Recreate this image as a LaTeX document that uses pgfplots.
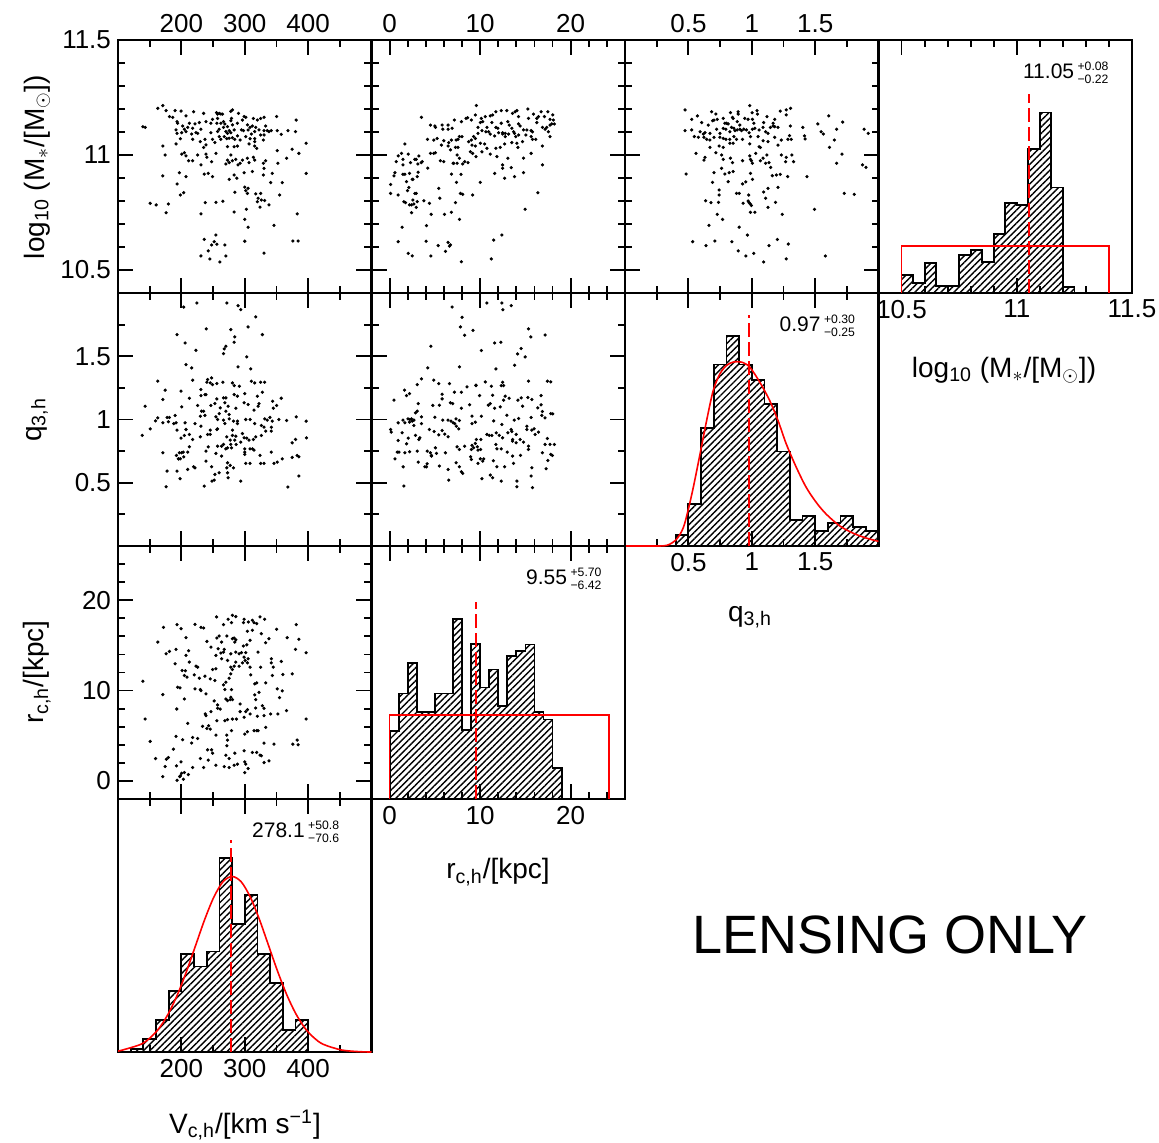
\documentclass[border=0pt]{standalone}
\usepackage{fontspec}
\setmainfont{Liberation Sans}
\usepackage{pgfplots}
\pgfplotsset{compat=1.18}
\usetikzlibrary{patterns.meta}
\newcommand\errs[2]{\,\raisebox{0.1ex}{\fontsize{6.1}{6.8}\selectfont\renewcommand\arraystretch{0.95}\begin{tabular}{@{}l@{}}+#1\\−#2\end{tabular}}}
\pgfplotsset{
  panel/.style={scale only axis, width=126.75pt, height=126.5pt, anchor=south west,
    axis line style={line width=1.2pt}, tick style={black, line width=0.9pt},
    tick align=inside, major tick length=7.5pt, minor tick length=3.5pt,
    xtick pos=both, ytick pos=both,
    tick label style={font=\fontsize{13}{13}\selectfont},
    /pgf/number format/assume math mode=true},
  Vx/.style={xmin=100,xmax=500,xtick={200,300,400},minor xtick={150,250,350,450}},
  Mx/.style={xmin=10.4,xmax=11.5,xtick={10.5,11,11.5},minor xtick={10.6,10.7,10.8,10.9,11.1,11.2,11.3,11.4}},
  My/.style={ymin=10.4,ymax=11.5,ytick={10.5,11,11.5},minor ytick={10.6,10.7,10.8,10.9,11.1,11.2,11.3,11.4}},
  qx/.style={xmin=0,xmax=2,xtick={0.5,1,1.5},minor xtick={0.25,0.75,1.25,1.75}},
  qy/.style={ymin=0,ymax=2,ytick={0.5,1,1.5},minor ytick={0.25,0.75,1.25,1.75}},
  rx/.style={xmin=-2,xmax=26,xtick={0,10,20},minor xtick={2,4,6,8,12,14,16,18,22,24}},
  ry/.style={ymin=-2,ymax=26,ytick={0,10,20},minor ytick={2,4,6,8,12,14,16,18,22,24}},
  noxl/.style={xticklabel=\empty},
  noyl/.style={yticklabel=\empty},
  hist/.style={ymin=0,ymax=758,ytick=\empty},
  dots/.style={only marks, mark=*, mark size=0.6pt, black},
  histbar/.style={const plot, draw=black, line width=0.9pt, pattern={Lines[angle=45,distance=2.3pt,line width=0.7pt]}},
  fit/.style={red, line width=0.8pt, smooth},
  med/.style={color=red, line width=1pt, dash pattern=on 7pt off 2.5pt},
}
\begin{document}
\begin{tikzpicture}
\path[use as bounding box] (0,0) rectangle (579.5pt,571pt);
% ---------------- Row 1 ----------------
\begin{axis}[panel, Vx, My, at={(59pt,424.5pt)}, xticklabel pos=upper]
\addplot[dots] coordinates {
(162.8,11.203)(170.7,11.215)(175.9,11.193)(181.2,11.167)(190.1,11.193)(199.5,11.191)(207.3,11.170)(219.4,11.188)(235.1,11.181)(255.5,11.184)(257.1,11.178)(259.7,11.181)(262.3,11.178)(264.9,11.178)(278.0,11.190)(280.6,11.196)(290.1,11.181)(299.0,11.167)(313.6,11.159)(319.9,11.152)(325.1,11.159)(330.4,11.164)(350.3,11.167)(381.2,11.152)
(139.3,11.123)(142.9,11.120)(186.4,11.164)(193.2,11.145)(194.2,11.138)(191.6,11.109)(202.1,11.126)(204.7,11.112)(210.0,11.120)(212.6,11.138)(217.8,11.116)(221.5,11.135)(228.3,11.141)(230.9,11.112)(238.8,11.145)(246.6,11.138)(249.2,11.155)(256.0,11.138)(257.1,11.159)(262.3,11.138)(266.5,11.145)(268.6,11.135)(272.8,11.123)(278.0,11.149)(279.1,11.159)(280.6,11.131)(288.5,11.138)(296.4,11.152)(301.6,11.164)(304.2,11.131)(308.4,11.120)(312.1,11.126)(317.3,11.120)(322.5,11.109)(333.0,11.126)(335.6,11.106)(338.2,11.102)(341.9,11.106)(351.3,11.106)(368.1,11.106)(380.1,11.102)(193.2,11.094)(200.5,11.097)(207.3,11.102)(216.2,11.091)(223.0,11.097)(225.7,11.094)(246.6,11.097)(257.1,11.102)(259.7,11.112)(266.5,11.120)(270.2,11.102)(272.8,11.094)(275.4,11.106)(278.0,11.097)(283.3,11.109)(294.8,11.109)(297.9,11.106)(305.3,11.109)(310.5,11.091)(315.7,11.102)(325.1,11.087)(330.4,11.106)(330.4,11.087)(357.6,11.090)
(198.4,11.071)(217.8,11.068)(229.9,11.058)(237.2,11.068)(249.2,11.068)(252.9,11.054)(259.7,11.080)(262.3,11.068)(267.6,11.080)(271.7,11.071)(275.4,11.073)(280.6,11.075)(284.3,11.068)(288.5,11.083)(292.7,11.065)(301.6,11.080)(308.4,11.071)(315.7,11.071)(315.7,11.058)(329.3,11.065)(170.7,11.039)(191.6,11.048)(235.1,11.033)(238.8,11.044)(272.8,11.036)(283.3,11.036)(288.5,11.039)(306.8,11.048)(315.7,11.039)(318.9,11.029)(351.3,11.019)(374.9,11.025)(396.9,11.051)
(174.4,11.000)(200.5,11.004)(204.7,11.010)(207.3,10.996)(211.5,10.975)(217.8,10.975)(225.7,11.000)(230.9,10.957)(238.8,11.004)(240.3,10.990)(247.7,10.971)(254.5,11.007)(270.2,10.961)(272.8,10.978)(275.4,10.967)(278.0,11.000)(280.6,10.975)(285.9,10.981)(289.5,10.957)(292.7,10.964)(296.4,10.978)(304.2,10.986)(306.8,10.967)(313.6,10.990)(315.7,10.978)(329.3,10.964)(333.0,10.975)(330.4,10.942)(352.4,10.964)(366.0,10.986)(385.4,11.007)
(170.7,10.909)(196.9,10.923)(207.3,10.906)(236.1,10.917)(242.4,10.920)(249.2,10.906)(275.4,10.894)(283.3,10.913)(287.4,10.899)(299.0,10.923)(312.1,10.928)(329.3,10.913)(343.5,10.920)(340.9,10.880)(359.2,10.880)(396.9,10.920)(193.2,10.874)
(198.4,10.826)(203.7,10.836)(284.3,10.838)(300.0,10.860)(301.6,10.845)(305.3,10.855)(304.2,10.833)(317.3,10.831)(325.1,10.833)(321.0,10.812)(319.9,10.797)(326.2,10.804)(331.4,10.802)(355.0,10.826)(150.8,10.790)(160.2,10.783)(179.6,10.787)(237.7,10.793)(254.5,10.794)(265.5,10.799)(338.2,10.783)(324.1,10.773)
(175.9,10.749)(230.9,10.744)(283.3,10.752)(302.6,10.764)(300.0,10.720)(305.3,10.686)(382.7,10.744)(346.1,10.694)
(236.1,10.633)(254.5,10.652)(251.8,10.623)(256.0,10.612)(247.7,10.609)(268.6,10.609)(242.4,10.583)(230.9,10.561)(245.0,10.548)(260.7,10.535)(270.2,10.561)(300.0,10.625)(330.4,10.573)(375.9,10.626)(384.3,10.626)
};
\end{axis}
\begin{axis}[panel, rx, My, at={(185.75pt,424.5pt)}, xticklabel pos=upper, noyl]
\addplot[dots] coordinates {
(9.58,11.215)(3.52,11.164)(8.62,11.162)(9.47,11.174)(10.13,11.159)(10.57,11.167)(11.12,11.170)(11.38,11.174)(11.74,11.188)(12.33,11.193)(12.95,11.193)(13.58,11.181)(13.87,11.188)(14.06,11.193)(14.24,11.167)(15.27,11.200)(15.34,11.159)(15.89,11.178)(16.26,11.159)(16.44,11.167)(16.73,11.188)(17.10,11.167)(17.47,11.188)(17.72,11.155)(18.02,11.174)(7.16,11.152)(7.93,11.145)
(4.51,11.130)(5.06,11.120)(5.80,11.130)(6.46,11.130)(4.99,11.126)(5.87,11.112)(6.46,11.112)(6.90,11.116)(8.44,11.159)(9.03,11.152)(9.76,11.120)(10.02,11.141)(10.28,11.145)(10.75,11.120)(10.94,11.101)(11.30,11.141)(11.74,11.120)(11.96,11.116)(12.33,11.138)(12.48,11.097)(12.77,11.094)(13.06,11.145)(13.21,11.130)(13.50,11.116)(13.69,11.101)(14.24,11.135)(14.42,11.126)(14.79,11.109)(15.16,11.109)(15.63,11.106)(15.78,11.101)(16.26,11.141)(16.88,11.120)(17.17,11.112)(17.36,11.120)(17.72,11.130)(17.91,11.135)(18.20,11.135)(17.54,11.101)(18.09,11.152)(9.76,11.094)(10.20,11.106)(10.64,11.101)(11.12,11.091)(11.60,11.083)(12.04,11.097)(12.48,11.091)(12.77,11.080)(13.14,11.091)(13.80,11.094)(13.94,11.080)(14.24,11.087)(15.05,11.087)(15.63,11.080)(15.78,11.068)(16.15,11.068)(17.72,11.080)(4.18,11.068)(4.88,11.065)(5.25,11.072)(5.98,11.062)(6.53,11.054)(6.83,11.065)(7.34,11.065)(7.56,11.068)(7.71,11.080)(8.00,11.080)(9.03,11.065)(9.28,11.080)(9.47,11.072)
(1.69,11.048)(5.72,11.043)(6.46,11.039)(7.27,11.033)(7.56,11.033)(8.73,11.058)(9.10,11.043)(9.47,11.039)(10.02,11.051)(10.50,11.048)(10.75,11.029)(11.74,11.029)(12.22,11.033)(12.70,11.048)(13.50,11.054)(14.06,11.051)(14.68,11.058)(14.17,11.033)(16.88,11.039)(1.32,11.007)(2.06,11.004)(0.95,10.996)(1.47,10.981)(2.79,10.981)(3.23,10.996)(3.60,10.971)(4.51,11.007)(4.88,11.007)(5.06,11.010)(5.61,10.975)(5.98,10.971)(6.72,11.022)(7.45,11.000)(7.71,10.986)(7.08,10.964)(7.45,10.964)(8.29,10.971)(8.66,10.967)(8.92,11.014)(9.17,11.007)(9.54,10.993)(10.20,11.014)(11.12,11.004)(11.85,10.993)(13.06,10.986)(14.79,10.986)(15.63,11.007)(16.88,10.957)(0.73,10.971)(1.47,10.957)(2.31,10.967)(2.94,10.981)(3.12,10.961)(3.49,10.967)(4.22,10.943)(7.01,10.964)(8.07,10.961)(12.48,10.957)(12.48,10.942)
(0.59,10.923)(0.48,10.909)(1.47,10.916)(1.69,10.916)(2.20,10.920)(2.57,10.894)(3.16,10.925)(3.05,10.906)(6.83,10.917)(7.89,10.916)(11.60,10.920)(12.70,10.899)(13.43,10.945)(13.80,10.906)(14.79,10.923)(1.87,10.884)(2.50,10.894)(2.13,10.859)(1.98,10.845)(0.11,10.872)(5.43,10.855)(7.38,10.881)(10.02,10.881)
(0.11,10.833)(0.95,10.826)(2.79,10.833)(2.94,10.833)(7.82,10.833)(8.07,10.829)(9.17,10.826)(16.37,10.836)(5.54,10.812)(1.58,10.797)(1.76,10.793)(3.05,10.797)(2.42,10.783)(2.68,10.787)(2.20,10.783)(2.94,10.772)(2.57,10.804)(3.78,10.801)(4.40,10.790)(7.27,10.793)(2.42,10.749)(4.59,10.742)(6.06,10.742)(6.83,10.751)(7.71,10.720)(14.97,10.764)
(1.39,10.686)(4.07,10.693)(0.95,10.623)(4.04,10.625)(5.36,10.606)(6.46,10.620)(6.72,10.609)(6.61,10.604)(6.17,10.581)(2.06,10.572)(2.50,10.561)(4.55,10.561)(7.93,10.536)(11.23,10.548)(11.49,10.630)(12.40,10.652)
};
\end{axis}
\begin{axis}[panel, qx, My, at={(312.5pt,424.5pt)}, xticklabel pos=upper, noyl]
\addplot[dots] coordinates {
(0.984,11.215)(0.474,11.196)(0.683,11.188)(0.717,11.178)(0.832,11.184)(0.893,11.188)(0.893,11.178)(1.003,11.184)(1.042,11.193)(1.045,11.178)(1.225,11.191)(1.272,11.196)(1.306,11.203)(1.272,11.174)(0.526,11.155)(0.571,11.170)(0.605,11.141)(0.657,11.130)(0.691,11.149)(0.702,11.152)(0.728,11.155)(0.775,11.159)(0.788,11.138)(0.801,11.138)(0.814,11.135)(0.848,11.164)(0.853,11.159)(0.885,11.145)(0.906,11.130)(0.945,11.159)(0.971,11.155)(1.005,11.155)(1.016,11.138)(1.094,11.141)(1.120,11.167)(1.181,11.155)(1.168,11.138)(1.181,11.123)(1.304,11.126)(1.403,11.120)(1.521,11.135)(1.607,11.170)(1.717,11.143)(0.474,11.106)(0.526,11.109)(0.592,11.101)(0.618,11.091)(0.631,11.097)(0.670,11.094)(0.723,11.112)(0.749,11.094)(0.775,11.116)(0.796,11.112)(0.827,11.101)(0.840,11.120)(0.859,11.116)(0.867,11.106)(0.885,11.109)(0.906,11.112)(0.919,11.106)(0.937,11.112)(0.958,11.109)(0.979,11.097)(1.005,11.112)(1.024,11.116)(1.058,11.109)(1.089,11.120)(1.110,11.101)(1.128,11.094)(1.147,11.120)(1.168,11.126)(1.207,11.120)(1.298,11.084)(1.416,11.083)(1.547,11.101)(1.565,11.091)(1.670,11.112)(1.887,11.112)(1.919,11.094)
(0.547,11.080)(0.579,11.077)(0.623,11.077)(0.644,11.068)(0.670,11.065)(0.702,11.077)(0.749,11.077)(0.775,11.072)(0.796,11.068)(0.827,11.068)(0.859,11.080)(0.880,11.068)(0.927,11.068)(0.990,11.080)(1.050,11.080)(1.089,11.062)(1.128,11.058)(1.181,11.077)(1.233,11.065)(1.285,11.068)(1.312,11.068)(1.421,11.070)(1.652,11.065)(0.670,11.033)(0.743,11.039)(0.775,11.033)(0.827,11.051)(0.853,11.051)(0.984,11.048)(1.058,11.036)(1.068,11.033)(1.207,11.043)(1.613,11.033)
(0.560,11.007)(0.717,11.010)(0.631,10.990)(0.623,10.978)(0.762,11.000)(0.775,10.981)(0.832,10.986)(0.848,10.967)(0.927,10.975)(0.984,10.996)(0.990,10.981)(0.997,10.975)(1.005,10.964)(1.031,11.007)(1.068,10.975)(1.089,10.986)(1.120,11.000)(1.110,10.964)(1.136,10.967)(1.149,10.946)(1.233,11.000)(1.272,10.990)(1.317,11.000)(1.330,10.971)(1.267,10.971)(1.670,10.964)(1.712,11.004)(1.874,10.957)(1.901,10.946)
(0.482,10.917)(0.702,10.923)(0.762,10.942)(0.788,10.917)(0.822,10.923)(0.853,10.928)(0.990,10.920)(1.005,10.894)(1.162,10.910)(1.194,10.913)(1.225,10.916)(1.283,10.906)(1.435,10.906)(0.691,10.881)(0.814,10.884)(0.927,10.874)(0.953,10.883)(0.743,10.848)(0.743,10.826)(0.880,10.833)(0.901,10.833)(0.976,10.826)(1.094,10.839)(1.128,10.855)(1.207,10.859)(1.730,10.833)(1.809,10.829)
(0.636,10.801)(0.678,10.793)(0.738,10.794)(0.932,10.790)(0.971,10.800)(0.979,10.793)(0.990,10.786)(0.997,10.780)(1.110,10.812)(1.188,10.794)(1.128,10.772)(0.990,10.751)(1.024,10.751)(0.728,10.742)(0.770,10.720)(1.241,10.742)(1.495,10.764)(0.662,10.694)(0.901,10.686)(0.966,10.652)(0.534,10.623)(0.639,10.606)(0.709,10.626)(0.843,10.623)(0.893,10.583)(0.953,10.561)(1.016,10.572)(1.094,10.535)(1.136,10.606)(1.202,10.633)(1.288,10.613)(1.272,10.548)(1.581,10.561)
};
\end{axis}
\begin{axis}[panel, Mx, hist, at={(439.25pt,424.5pt)}]
\addplot[histbar] coordinates {(10.50,53)(10.55,29)(10.60,91)(10.65,21)(10.70,21)(10.75,113)(10.80,130)(10.85,93)(10.90,176)(10.95,269)(11.00,263)(11.05,431)(11.10,541)(11.15,316)(11.20,19)(11.25,19)} \closedcycle;
\addplot[red, line width=0.8pt] coordinates {(10.5,0)(10.5,141)(11.4,141)(11.4,0)};
\addplot[med] coordinates {(11.055,0)(11.055,596)};
\node[anchor=east, font=\fontsize{10.5}{10.5}\selectfont] at (rel axis cs:0.935,0.865) {11.05\errs{0.08}{0.22}};
\end{axis}
% ---------------- Row 2 ----------------
\begin{axis}[panel, Vx, qy, at={(59pt,298pt)}, noxl]
\addplot[dots] coordinates {
(203.7,1.889)(224.6,1.921)(271.7,1.921)(289.5,1.900)(293.7,1.868)(317.3,1.811)(305.3,1.732)(239.3,1.716)(278.0,1.711)(193.2,1.671)(327.8,1.671)(284.3,1.653)(205.8,1.605)(283.3,1.611)(270.2,1.579)(267.6,1.558)(266.5,1.521)(223.0,1.547)(303.2,1.495)(207.3,1.434)(216.2,1.408)(289.5,1.416)(309.4,1.400)(162.8,1.303)(217.8,1.311)(241.4,1.316)(247.7,1.329)(240.3,1.295)(245.6,1.289)(249.2,1.276)(256.0,1.284)(265.5,1.295)(280.6,1.289)(283.3,1.268)(291.6,1.263)(310.5,1.303)(315.7,1.289)(325.1,1.295)(331.4,1.295)(174.4,1.232)(199.5,1.224)(230.9,1.237)(238.8,1.197)(230.9,1.189)(237.2,1.197)(212.6,1.168)(170.7,1.158)(256.0,1.163)(266.5,1.171)(270.2,1.171)(283.3,1.197)(288.5,1.184)(300.0,1.205)(319.9,1.184)(327.8,1.216)(344.0,1.145)(357.6,1.168)(142.9,1.105)(200.5,1.100)(225.7,1.111)(246.6,1.111)(252.9,1.126)(261.3,1.092)(268.6,1.132)(273.8,1.105)(285.9,1.089)(299.0,1.132)(305.3,1.118)(321.0,1.105)(322.5,1.126)(345.0,1.089)(350.3,1.111)(231.9,1.066)(235.1,1.066)(237.2,1.032)(259.7,1.047)(270.2,1.066)(275.4,1.039)(314.7,1.074)(162.8,1.013)(177.5,1.016)(181.2,1.016)(190.1,1.032)(229.9,1.026)(254.5,1.021)(257.1,1.000)(266.5,0.995)(275.4,1.005)(282.2,0.987)(288.5,0.987)(301.6,1.000)(308.4,1.000)(331.4,1.005)(335.6,0.995)(339.8,1.016)(343.5,0.987)(353.9,1.000)(366.0,0.992)(381.2,1.021)(396.9,0.987)(150.8,0.926)(159.2,0.989)(170.7,0.974)(179.6,0.982)(188.0,0.968)(191.6,0.974)(205.8,0.974)(221.5,0.968)(230.9,0.947)(241.4,0.882)(245.6,0.916)(257.1,0.926)(268.6,0.968)(280.6,0.916)(288.5,0.968)(315.7,0.968)(326.2,0.953)(330.4,0.939)(341.9,0.939)
(138.2,0.874)(193.2,0.916)(199.5,0.853)(207.3,0.921)(204.7,0.874)(212.6,0.882)(217.8,0.842)(229.9,0.863)(245.6,0.882)(256.0,0.921)(271.7,0.863)(277.0,0.837)(280.6,0.874)(284.3,0.837)(296.4,0.889)(299.0,0.855)(303.2,0.853)(306.8,0.837)(313.6,0.842)(317.3,0.863)(326.2,0.874)(333.0,0.908)(341.9,0.908)(380.1,0.842)(374.9,0.816)(397.4,0.855)(308.4,0.768)(312.1,0.768)(314.7,0.758)(300.0,0.768)(300.0,0.742)(242.4,0.784)(257.1,0.789)(263.4,0.789)(266.5,0.803)(270.2,0.768)(272.8,0.776)(278.0,0.803)(279.1,0.776)(286.4,0.803)(293.7,0.821)(285.9,0.868)(170.7,0.737)(192.2,0.716)(196.9,0.737)(200.5,0.737)(203.1,0.742)(210.0,0.742)(195.3,0.689)(198.4,0.689)(203.7,0.705)(212.6,0.784)(238.8,0.750)(254.5,0.732)(263.4,0.711)(300.0,0.724)(324.1,0.716)(341.9,0.742)(330.4,0.653)(346.1,0.653)(351.3,0.663)(359.2,0.689)(374.9,0.700)(382.7,0.716)(385.4,0.705)(177.5,0.592)(195.8,0.689)(221.5,0.618)(219.4,0.626)(210.0,0.605)(238.8,0.671)(247.7,0.626)(272.8,0.658)(277.0,0.637)(282.2,0.618)(271.7,0.618)(301.6,0.653)(308.4,0.653)(325.1,0.653)(193.2,0.592)(197.9,0.532)(252.9,0.566)(259.7,0.579)(272.8,0.579)(273.8,0.539)(251.8,0.521)(248.2,0.513)(236.1,0.474)(175.9,0.468)(293.7,0.513)(368.1,0.466)(385.4,0.553)
};
\end{axis}
\begin{axis}[panel, rx, qy, at={(185.75pt,298pt)}, noxl, noyl]
\addplot[dots] coordinates {
(6.90,1.889)(10.75,1.921)(12.40,1.921)(13.43,1.900)(12.51,1.868)(8.00,1.808)(7.82,1.732)(9.21,1.705)(8.29,1.666)(15.34,1.716)(15.60,1.653)(17.17,1.668)(4.55,1.579)(11.60,1.605)(12.29,1.611)(10.13,1.545)(14.53,1.561)(14.13,1.518)(14.97,1.495)(13.80,1.429)(4.22,1.408)(7.71,1.416)(11.74,1.400)(3.52,1.321)(3.05,1.276)(4.88,1.311)(5.43,1.284)(6.61,1.284)(8.55,1.258)(9.54,1.271)(10.57,1.297)(11.23,1.263)(12.48,1.295)(12.33,1.268)(12.59,1.268)(15.34,1.303)(17.43,1.303)(17.80,1.297)(1.65,1.232)(2.20,1.205)(1.87,1.189)(5.80,1.200)(7.16,1.216)(7.93,1.216)(9.54,1.268)(5.80,1.163)(6.72,1.132)(6.97,1.126)(8.84,1.116)(5.50,1.113)(4.77,1.111)(3.16,1.126)(0.48,1.153)(9.94,1.189)(11.38,1.192)(12.77,1.184)(13.21,1.168)(12.59,1.153)(14.17,1.153)(14.53,1.171)(15.27,1.174)(15.71,1.158)(16.73,1.189)(10.90,1.113)(11.12,1.126)(11.60,1.089)(12.22,1.100)(14.68,1.105)(16.37,1.092)(16.73,1.116)(16.88,1.063)(16.81,1.032)(17.17,1.013)(17.80,1.047)(18.02,1.045)(3.05,1.066)(2.86,1.053)(3.52,1.021)(4.99,1.018)(5.87,0.995)(6.46,0.995)(6.79,0.987)(7.01,0.974)(7.34,1.005)(7.71,0.992)(7.93,1.089)(9.10,1.026)(10.13,1.026)(7.38,0.947)(7.19,0.968)(9.10,0.968)(9.47,0.979)(11.49,0.989)(12.40,0.961)(12.95,1.034)(13.76,0.995)(14.24,1.008)(15.63,1.016)(0.95,0.974)(1.47,0.995)(1.69,0.974)(2.02,1.005)(2.24,1.000)(2.42,1.005)(2.50,0.987)(2.68,0.995)(2.68,0.953)(2.20,0.979)(3.52,0.968)(0.11,0.921)(0.18,0.900)(1.39,0.895)(0.95,0.834)(2.86,0.874)(3.23,0.842)(3.34,0.855)(4.40,0.921)(4.92,0.905)(5.43,0.879)(5.80,0.913)(6.09,0.884)(6.46,0.863)(7.63,0.926)(9.10,0.795)(9.58,0.842)(10.09,0.842)(9.47,0.811)(10.75,0.882)(11.01,0.874)(11.30,0.874)(11.78,0.895)(12.11,0.874)(12.48,0.855)(13.06,0.895)(13.43,0.921)(13.50,0.905)(13.58,0.842)(13.98,0.882)(13.98,0.816)(14.42,0.842)(14.79,0.821)(15.16,0.947)(15.16,0.921)(15.34,0.789)(15.34,0.763)(15.71,0.916)(15.96,0.926)(16.44,0.900)(17.43,0.850)(16.07,0.882)(13.58,0.829)
(1.87,0.808)(2.06,0.853)(2.20,0.745)(1.69,0.737)(0.84,0.742)(1.03,0.742)(0.59,0.689)(3.05,0.750)(4.15,0.750)(4.51,0.737)(4.62,0.716)(5.06,0.776)(5.17,0.732)(6.17,0.737)(7.45,0.784)(7.71,0.763)(8.29,0.789)(9.03,0.763)(9.28,0.776)(9.69,0.784)(9.76,0.758)(10.06,0.763)(11.74,0.803)(11.85,0.768)(12.33,0.768)(12.99,0.742)(13.58,0.711)(14.46,0.716)(17.17,0.803)(17.72,0.803)(17.80,0.724)(17.98,0.716)(18.20,0.803)(16.88,0.737)(3.16,0.663)(3.89,0.626)(4.07,0.626)(4.15,0.650)(4.62,0.711)(5.50,0.632)(6.46,0.605)(7.34,0.658)(7.71,0.626)(7.93,0.587)(8.07,0.574)(9.03,0.684)(8.95,0.705)(9.76,0.653)(10.02,0.689)(10.39,0.689)(10.28,0.671)(11.45,0.674)(11.85,0.626)(12.70,0.626)(13.69,0.653)(15.71,0.618)(17.28,0.611)(17.47,0.676)(1.50,0.626)(6.53,0.521)(10.20,0.532)(11.12,0.561)(11.38,0.539)(12.33,0.513)(14.06,0.513)(14.06,0.468)(15.78,0.461)(15.63,0.553)(1.58,0.474)
};
\end{axis}
\begin{axis}[panel, qx, hist, at={(312.5pt,298pt)}]
\addplot[histbar] coordinates {(0.4,34)(0.5,126)(0.6,353)(0.7,544)(0.8,628)(0.9,544)(1.0,498)(1.1,426)(1.2,283)(1.3,79)(1.4,91)(1.5,44)(1.6,68)(1.7,91)(1.8,58)(1.9,44)(2.0,44)} \closedcycle;
\addplot[fit] coordinates {(0,0)(0.2,0)(0.33,2)(0.408,21)(0.461,56)(0.5,111)(0.539,176)(0.592,276)(0.644,376)(0.696,466)(0.749,516)(0.801,541)(0.853,551)(0.919,551)(0.984,536)(1.063,491)(1.141,436)(1.207,376)(1.272,306)(1.351,236)(1.429,176)(1.508,131)(1.586,96)(1.691,61)(1.796,39)(1.901,24)(2.0,14)};
\addplot[med] coordinates {(0.98,0)(0.98,691)};
\node[anchor=east, font=\fontsize{10.5}{10.5}\selectfont] at (rel axis cs:0.935,0.865) {0.97\errs{0.30}{0.25}};
\end{axis}
% ---------------- Row 3 ----------------
\begin{axis}[panel, Vx, ry, at={(59pt,171.5pt)}, noxl]
\addplot[dots] coordinates {
(255.5,18.15)(266.5,17.30)(273.8,17.89)(280.6,18.33)(285.9,18.19)(279.1,17.52)(299.0,17.89)(297.9,17.52)(305.8,17.59)(312.1,17.78)(314.7,17.52)(324.1,18.15)(331.4,17.89)(171.7,17.00)(193.2,17.30)(199.5,16.85)(221.5,17.33)(230.9,17.00)(235.1,16.93)(312.1,16.67)(304.2,16.56)(318.9,17.41)(326.2,16.30)(350.3,16.78)(381.2,17.30)(162.8,15.37)(207.3,15.85)(240.3,15.44)(256.0,15.81)(259.7,16.04)(263.4,15.37)(271.7,16.04)(280.6,15.74)(283.3,15.81)(284.3,15.37)(285.9,15.63)(297.9,14.93)(303.2,15.07)(308.4,15.56)(333.0,15.30)(338.2,15.74)(367.0,15.85)(385.4,15.67)(175.9,14.07)(181.2,14.33)(191.6,14.56)(211.5,14.41)(207.3,13.89)(246.6,14.81)(254.5,13.89)(258.1,14.63)(262.3,14.15)(266.5,14.26)(267.6,14.56)(278.0,14.07)(285.9,14.26)(291.1,14.07)(294.8,14.19)(299.0,13.70)(301.6,14.19)(305.3,13.52)(321.0,14.26)(341.9,13.52)(341.9,13.07)(357.6,13.22)(396.9,14.19)(380.1,14.56)(190.1,12.96)(201.1,12.22)(206.3,12.19)(212.6,13.15)(223.0,12.70)(225.7,12.59)(249.2,12.33)(254.5,12.41)(263.4,13.52)(272.8,13.33)(278.0,12.59)(280.6,12.33)(283.3,12.70)(285.9,13.15)(291.1,12.70)(296.4,13.07)(300.5,13.33)(304.2,13.07)(308.4,12.59)(325.1,12.59)(345.0,12.59)(139.3,11.04)(170.7,9.56)(194.2,10.37)(197.9,10.30)(204.7,11.67)(208.9,11.48)(220.4,11.74)(228.3,11.37)(237.2,11.59)(221.5,10.19)(229.9,10.11)(230.9,10.00)(238.8,9.63)(245.6,11.30)(252.9,11.11)(270.2,10.93)(266.5,10.63)(275.4,11.37)(278.0,11.85)(309.4,11.74)(315.7,10.74)(318.9,10.85)(333.0,10.85)(343.5,11.67)(360.2,11.78)(374.9,11.85)(351.3,10.19)(359.2,9.96)(355.0,9.22)(268.6,10.11)(279.1,10.11)(204.7,9.07)(251.8,8.85)(257.1,8.41)(261.3,7.96)(257.1,8.04)(270.2,9.07)(272.8,8.89)(278.0,9.26)(277.0,9.00)(280.6,9.00)(292.7,8.52)(315.7,9.52)(317.3,9.00)(322.5,9.81)(327.8,8.33)(330.4,8.04)(317.3,8.07)(192.7,7.96)(237.7,7.41)(238.8,7.22)(246.6,7.67)(256.0,6.67)(268.6,6.67)(272.8,6.78)(279.1,5.56)(280.6,6.85)(286.9,6.85)(292.7,7.67)(299.0,7.04)(301.6,7.67)(304.2,7.89)(308.4,7.41)(319.9,7.15)(330.4,7.22)(340.9,7.41)(352.4,7.41)(366.0,7.78)(396.9,6.85)(142.9,6.85)(210.0,6.37)(233.5,6.04)(240.3,5.81)(242.9,6.11)(245.6,5.74)(254.5,5.07)(271.7,5.07)(272.8,4.52)(300.0,5.19)(304.2,5.44)(314.7,5.56)(318.9,5.56)(321.0,5.56)(333.0,5.93)(191.6,4.93)(202.1,4.56)(217.8,4.81)(225.7,4.70)(216.2,4.19)(150.8,4.37)(241.4,3.44)(247.7,3.44)(249.2,3.07)(271.7,3.89)(270.2,2.85)(275.4,2.48)(284.3,3.07)(299.0,3.33)(312.1,3.15)(318.9,3.15)(324.1,2.85)(326.2,2.78)(330.4,4.19)(346.1,4.07)(375.9,4.07)(382.7,4.52)(384.3,4.00)(338.2,2.22)(330.4,2.04)(300.0,2.11)(301.6,1.85)(305.3,1.37)(300.0,0.93)(283.3,1.74)(288.5,1.85)(267.6,1.59)(275.4,1.48)(254.5,1.74)(235.1,1.48)(229.9,2.48)(242.4,2.30)(217.8,1.48)(211.0,0.70)(204.7,0.93)(200.5,0.85)(198.4,0.56)(197.4,0.48)(203.1,0.19)(193.2,0.07)(199.5,2.11)(192.2,1.67)(187.4,3.52)(179.6,2.59)(176.4,2.41)(159.2,2.48)(174.4,1.59)(170.7,0.48)
};
\end{axis}
\begin{axis}[panel, rx, hist, at={(185.75pt,171.5pt)}]
\addplot[histbar] coordinates {(0,204)(1,316)(2,408)(3,261)(4,261)(5,316)(6,316)(7,539)(8,206)(9,464)(10,334)(11,388)(12,278)(13,428)(14,444)(15,463)(16,260)(17,238)(18,93)(19,93)} \closedcycle;
\addplot[red, line width=0.8pt] coordinates {(0,0)(0,251)(24.2,251)(24.2,0)};
\addplot[med] coordinates {(9.55,0)(9.55,591)};
\node[anchor=east, font=\fontsize{10.5}{10.5}\selectfont] at (rel axis cs:0.935,0.865) {9.55\errs{5.70}{6.42}};
\end{axis}
% ---------------- Row 4 ----------------
\begin{axis}[panel, Vx, hist, at={(59pt,45pt)}]
\addplot[histbar] coordinates {(120,8)(140,38)(160,96)(180,184)(200,294)(220,256)(240,301)(260,581)(280,384)(300,471)(320,294)(340,206)(360,66)(380,96)(400,96)} \closedcycle;
\addplot[fit] coordinates {(100,3)(107.2,6)(136,23)(150.4,42)(164.8,71)(179.2,114)(193.6,171)(208,241)(222.4,319)(236.8,397)(251.2,464)(265.6,510)(280,526)(294.4,510)(308.8,464)(323.2,397)(337.6,319)(352,241)(366.4,171)(380.8,114)(395.2,71)(409.6,42)(424,23)(452.8,6)(481.6,1)(500,0)};
\addplot[med] coordinates {(278.1,0)(278.1,636)};
\node[anchor=east, font=\fontsize{10.5}{10.5}\selectfont] at (rel axis cs:0.9,0.865) {278.1\errs{50.8}{70.6}};
\end{axis}
% ---------------- labels ----------------
\node[rotate=90, font=\fontsize{14}{14}\selectfont] at (18.5pt,487.5pt) {log\textsubscript{10} (M$_*$/[M$_\odot$])};
\node[rotate=90, font=\fontsize{14}{14}\selectfont] at (18.5pt,361pt) {q\textsubscript{3,h}};
\node[rotate=90, font=\fontsize{14}{14}\selectfont] at (18.5pt,235pt) {r\textsubscript{c,h}/[kpc]};
\node[font=\fontsize{14}{14}\selectfont] at (502pt,386pt) {log\textsubscript{10} (M$_*$/[M$_\odot$])};
\node[font=\fontsize{14}{14}\selectfont] at (375pt,262.5pt) {q\textsubscript{3,h}};
\node[font=\fontsize{14}{14}\selectfont] at (249pt,135pt) {r\textsubscript{c,h}/[kpc]};
\node[font=\fontsize{14}{14}\selectfont] at (122.5pt,8.5pt) {V\textsubscript{c,h}/[km s\textsuperscript{−1}]};
\node[font=\fontsize{27}{27}\selectfont] at (445pt,103.5pt) {LENSING ONLY};
\end{tikzpicture}
\end{document}
